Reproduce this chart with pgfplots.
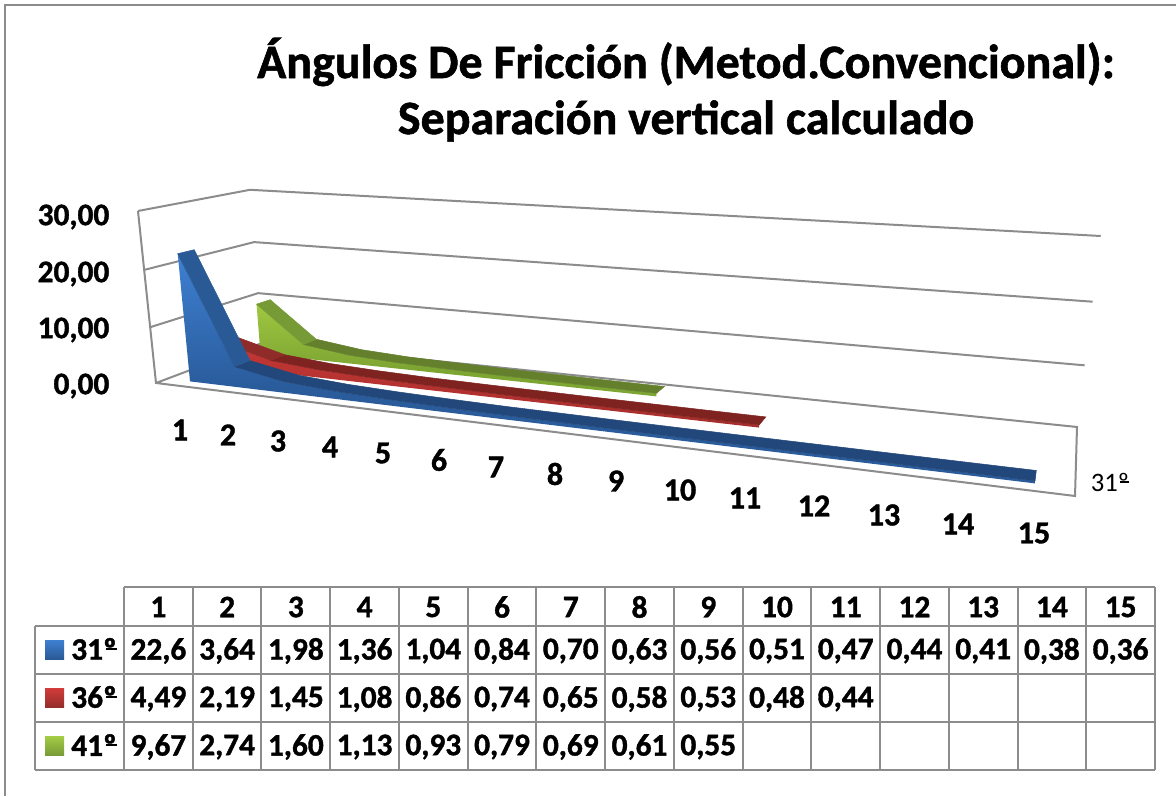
\documentclass[border=0pt]{standalone}
\usepackage{pgfplots}
\pgfplotsset{compat=1.18}
\usepackage{fontspec}
\setmainfont{Carlito}[BoldFeatures={FakeBold=1.2}]
\definecolor{wallc}{HTML}{8C8C8C}
\definecolor{bluetop}{HTML}{2A5A96}
\definecolor{bluerib}{HTML}{22477A}
\definecolor{redtop}{HTML}{8F2B29}
\definecolor{redrib}{HTML}{7F2320}
\definecolor{greentop}{HTML}{769A35}
\definecolor{greenrib}{HTML}{64802C}
\definecolor{bfd}{RGB}{42,92,156}
\definecolor{bfl}{RGB}{62,128,210}
\definecolor{rfd}{RGB}{165,45,43}
\definecolor{rfl}{RGB}{195,55,53}
\definecolor{gfd}{RGB}{125,165,50}
\definecolor{gfl}{RGB}{160,200,65}
\pgfdeclareverticalshading{blueface}{100bp}{color(0bp)=(bfd);color(46bp)=(bfd);color(75bp)=(bfl);color(100bp)=(bfl)}
\pgfdeclareverticalshading{redface}{100bp}{color(0bp)=(rfd);color(25bp)=(rfd);color(75bp)=(rfl);color(100bp)=(rfl)}
\pgfdeclareverticalshading{greenface}{100bp}{color(0bp)=(gfd);color(40bp)=(gfd);color(75bp)=(gfl);color(100bp)=(gfl)}
\newcommand\oo{º\llap{\rule[0.3em]{0.34em}{0.07em}}}
\def\U{((\thisrow{c}-0.5)/15)}
\def\H{(\thisrow{v}/30)}
\pgfkeys{/pgfplots/table/proj/.style 2 args={
  /pgfplots/table/x expr={(156+635.04*\U+139.6*(#1+\thisrow{b}*(#2-#1))-23.52*\H)/(1-0.26415*\U+0.12826*(#1+\thisrow{b}*(#2-#1))-0.04*\H)},
  /pgfplots/table/y expr={796-(383-18.02*\U+4*(#1+\thisrow{b}*(#2-#1))-180.44*\H+5.95*\U*\H)/(1-0.26415*\U+0.12826*(#1+\thisrow{b}*(#2-#1))-0.04*\H)}
}}
\begin{document}
\begin{tikzpicture}
\path[use as bounding box] (0,0) rectangle (882pt,597pt);
\begin{axis}[at={(0,0)},anchor=south west,scale only axis,width=882pt,height=597pt,
  xmin=0,xmax=1176,ymin=0,ymax=796,hide axis,clip=false,no marks]
% walls and gridlines (category, value, depth)
\addplot[wallc,line width=1.5pt] table[proj={0}{1}] {
c v b
0.5 30 0
0.5 30 1
15.5 30 1
};
\addplot[wallc,line width=1.5pt] table[proj={0}{1}] {
c v b
0.5 20 0
0.5 20 1
15.5 20 1
};
\addplot[wallc,line width=1.5pt] table[proj={0}{1}] {
c v b
0.5 10 0
0.5 10 1
15.5 10 1
};
\addplot[wallc,line width=1.5pt] table[proj={0}{1}] {
c v b
0.5 30 0
0.5 0 0
15.5 0 0
15.5 0 1
0.5 0 1
0.5 0 0
};
% 41
\addplot[draw=none,shading=greenface] table[proj={0.763}{0.903}] {
c v b
1 9.67 0
2 2.74 0
3 1.60 0
4 1.13 0
5 0.93 0
6 0.79 0
7 0.69 0
8 0.61 0
9 0.55 0
9 0 0
1 0 0
} -- cycle;
\addplot[draw=greenrib,line width=0.4pt,fill=greenrib] table[proj={0.763}{0.903}] {
c v b
2 2.74 0
3 1.60 0
4 1.13 0
5 0.93 0
6 0.79 0
7 0.69 0
8 0.61 0
9 0.55 0
9 0.55 1
8 0.61 1
7 0.69 1
6 0.79 1
5 0.93 1
4 1.13 1
3 1.60 1
2 2.74 1
} -- cycle;
\addplot[draw=greentop,line width=0.4pt,fill=greentop] table[proj={0.763}{0.903}] {
c v b
1 9.67 0
2 2.74 0
2 2.74 1
1 9.67 1
} -- cycle;
% 36
\addplot[draw=none,shading=redface] table[proj={0.43}{0.57}] {
c v b
1 4.49 0
2 2.19 0
3 1.45 0
4 1.08 0
5 0.86 0
6 0.74 0
7 0.65 0
8 0.58 0
9 0.53 0
10 0.48 0
11 0.44 0
11 0 0
1 0 0
} -- cycle;
\addplot[draw=redrib,line width=0.4pt,fill=redrib] table[proj={0.43}{0.57}] {
c v b
2 2.19 0
3 1.45 0
4 1.08 0
5 0.86 0
6 0.74 0
7 0.65 0
8 0.58 0
9 0.53 0
10 0.48 0
11 0.44 0
11 0.44 1
10 0.48 1
9 0.53 1
8 0.58 1
7 0.65 1
6 0.74 1
5 0.86 1
4 1.08 1
3 1.45 1
2 2.19 1
} -- cycle;
\addplot[draw=redtop,line width=0.4pt,fill=redtop] table[proj={0.43}{0.57}] {
c v b
1 4.49 0
2 2.19 0
2 2.19 1
1 4.49 1
} -- cycle;
% 31
\addplot[draw=none,shading=blueface] table[proj={0.097}{0.237}] {
c v b
1 22.6 0
2 3.64 0
3 1.98 0
4 1.36 0
5 1.04 0
6 0.84 0
7 0.70 0
8 0.63 0
9 0.56 0
10 0.51 0
11 0.47 0
12 0.44 0
13 0.41 0
14 0.38 0
15 0.36 0
15 0 0
1 0 0
} -- cycle;
\addplot[draw=bluerib,line width=0.4pt,fill=bluerib] table[proj={0.097}{0.237}] {
c v b
2 3.64 0
3 1.98 0
4 1.36 0
5 1.04 0
6 0.84 0
7 0.70 0
8 0.63 0
9 0.56 0
10 0.51 0
11 0.47 0
12 0.44 0
13 0.41 0
14 0.38 0
15 0.36 0
15 0.36 1
14 0.38 1
13 0.41 1
12 0.44 1
11 0.47 1
10 0.51 1
9 0.56 1
8 0.63 1
7 0.70 1
6 0.84 1
5 1.04 1
4 1.36 1
3 1.98 1
2 3.64 1
} -- cycle;
\addplot[draw=bluetop,line width=0.4pt,fill=bluetop] table[proj={0.097}{0.237}] {
c v b
1 22.6 0
2 3.64 0
2 3.64 1
1 22.6 1
} -- cycle;
\end{axis}
\begin{scope}[shift={(0,597pt)},x=0.75pt,y=-0.75pt]
\draw[wallc,line width=1.5pt] (5,796) -- (5,5) -- (1176,5);
\node[font=\fontsize{36pt}{37pt}\selectfont\bfseries] at (686,62) {Ángulos De Fricción (Metod.Convencional):};
\node[font=\fontsize{36pt}{37pt}\selectfont\bfseries] at (686,121) {Separación vertical calculado};
\tikzset{yl/.style={font=\fontsize{23.5pt}{25pt}\selectfont\bfseries,anchor=east}}
\node[yl] at (114,217) {30,00};
\node[yl] at (114,274) {20,00};
\node[yl] at (114,330) {10,00};
\node[yl] at (114,386) {0,00};
\tikzset{cl/.style={font=\fontsize{24pt}{25pt}\selectfont\bfseries}}
\foreach \n/\x/\y in {1/180/430,2/228/435,3/278/441,4/330/447,5/383/453,6/439/460,7/496/467,8/555/474,9/616/481,10/680/490,11/745/498,12/814/506,13/884/515,14/958/524,15/1034/533}
  \node[cl] at (\x,\y) {\n};
\node[font=\fontsize{20pt}{21pt}\selectfont] at (1110,482) {31\oo};
% data table
\draw[wallc,line width=1.5pt] (124,587) -- (1155,587);
\foreach \y in {626,674,722,770} \draw[wallc,line width=1.5pt] (35,\y) -- (1155,\y);
\draw[wallc,line width=1.5pt] (35,626) -- (35,770);
\foreach \i in {0,...,15} \draw[wallc,line width=1.5pt] ({124+\i*68.73},587) -- ({124+\i*68.73},770);
\tikzset{tc/.style={font=\fontsize{23.5pt}{24pt}\selectfont\bfseries}}
\foreach \n [count=\i from 0] in {1,2,3,4,5,6,7,8,9,10,11,12,13,14,15}
  \node[tc] at ({158.4+\i*68.73},607) {\n};
\foreach \n [count=\i from 0] in {22{,}6,3{,}64,1{,}98,1{,}36,1{,}04,0{,}84,0{,}70,0{,}63,0{,}56,0{,}51,0{,}47,0{,}44,0{,}41,0{,}38,0{,}36}
  \node[tc] at ({158.4+\i*68.73},651) {\n};
\foreach \n [count=\i from 0] in {4{,}49,2{,}19,1{,}45,1{,}08,0{,}86,0{,}74,0{,}65,0{,}58,0{,}53,0{,}48,0{,}44}
  \node[tc] at ({158.4+\i*68.73},699) {\n};
\foreach \n [count=\i from 0] in {9{,}67,2{,}74,1{,}60,1{,}13,0{,}93,0{,}79,0{,}69,0{,}61,0{,}55}
  \node[tc] at ({158.4+\i*68.73},747) {\n};
\node[tc] at (94,649) {31\oo};
\node[tc] at (94,697) {36\oo};
\node[tc] at (94,745) {41\oo};
\shade[top color=bfl,bottom color=bluetop] (45,640) rectangle (64,659);
\shade[top color={rgb,255:red,210;green,60;blue,58},bottom color={rgb,255:red,150;green,45;blue,43}] (45,688) rectangle (64,707);
\shade[top color={rgb,255:red,165;green,205;blue,70},bottom color={rgb,255:red,120;green,155;blue,55}] (45,736) rectangle (64,755);
\end{scope}
\end{tikzpicture}
\end{document}
